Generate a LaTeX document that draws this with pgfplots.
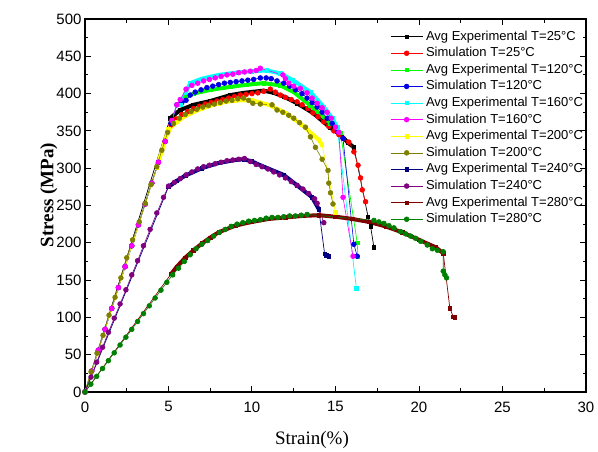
\documentclass[border=0pt]{standalone}
\usepackage{pgfplots}
\pgfplotsset{compat=1.18}
\usepackage{fontspec}
\setmainfont{Liberation Sans}
\newfontfamily\timesfont{Liberation Serif}
\definecolor{cExpA}{RGB}{0,0,0}
\definecolor{cSimA}{RGB}{255,0,0}
\definecolor{cExpB}{RGB}{0,255,0}
\definecolor{cSimB}{RGB}{0,0,230}
\definecolor{cExpC}{RGB}{0,255,255}
\definecolor{cSimC}{RGB}{255,0,255}
\definecolor{cExpD}{RGB}{255,255,0}
\definecolor{cSimD}{RGB}{128,128,0}
\definecolor{cExpE}{RGB}{0,0,128}
\definecolor{cSimE}{RGB}{128,0,128}
\definecolor{cExpF}{RGB}{128,0,0}
\definecolor{cSimF}{RGB}{0,128,0}
\pgfplotsset{
  band/.style={line width=4pt, forget plot, line join=round, line cap=round, mark=none},
  exp/.style={line width=0.7pt, mark=square*, mark size=1.7pt},
  sim/.style={line width=0.6pt, mark=*, mark size=2.4pt},
}
\begin{document}
\begin{tikzpicture}
\path[use as bounding box] (-85pt,-60pt) rectangle (513pt,392pt);
\begin{axis}[
  scale only axis, width=501pt, height=373pt,
  xmin=0, xmax=30, ymin=0, ymax=500,
  xtick={0,5,...,30}, ytick={0,50,...,500},
  minor x tick num=1, minor y tick num=1,
  tick align=inside, major tick length=6pt, minor tick length=3.5pt,
  tick style={line width=1pt, black},
  axis line style={line width=1.2pt},
  /pgf/number format/assume math mode=true,
  ticklabel style={font=\fontsize{15}{17}\selectfont},
  xticklabel style={yshift=-6pt},
  xlabel={Strain(\%)}, ylabel={\bfseries Stress (MPa)},
  xlabel style={font=\timesfont\fontsize{19}{22}\selectfont, at={(axis description cs:0.453,-0.129)}, anchor=center},
  ylabel style={font=\timesfont\fontsize{19}{22}\selectfont, at={(axis description cs:-0.072,0.528)}, anchor=center},
  legend cell align=left,
  legend style={draw=none, fill=none, at={(axis description cs:0.603,0.976)}, anchor=north west,
    font=\fontsize{13}{15}\selectfont,
    nodes={inner sep=0pt, text height=10pt, text depth=3pt},
    row sep=3.6pt,
    /tikz/every odd column/.append style={column sep=3pt}},
  legend image code/.code={\draw[#1, mark repeat=2, mark phase=2] plot coordinates {(0pt,0pt) (16pt,0pt) (32pt,0pt)};},
]
% ---- 25 C experimental
\addplot[band, cExpA] coordinates {(5.1,367)(5.7,378)(6.5,385)(7.5,390)(8.7,398)(9.5,401)(10.7,404)(11.3,401)(11.9,396)(12.7,387)(13.65,374)(14.7,354)(15.3,345)(15.75,334)(16.1,328)};
\addplot[exp, cExpA] coordinates {(0,0)(5.1,367)(5.7,378)(6.5,385)(7.5,390)(8.7,398)(9.5,401)(10.7,404)(11.3,401)(11.9,396)(12.7,387)(13.65,374)(14.7,354)(15.3,345)(15.75,334)(16.1,328)(16.95,235)(17.1,222)(17.3,194)};
\addlegendentry{Avg Experimental T=25°C}
% ---- 25 C simulation
\addplot[sim, cSimA] coordinates {(0,0)(0.4,28)(0.8,56)(1.2,84)(1.6,112)(2.0,140)(2.4,168)(2.8,196)(3.2,224)(3.6,252)(4.0,280)(4.4,308)(4.8,336)(5.15,358)(5.45,366)(5.8,372)(6.15,376)(6.5,380)(6.85,383)(7.2,386)(7.55,388)(7.9,390)(8.25,392)(8.6,394)(8.95,396)(9.3,398)(9.65,399)(10.0,400)(10.35,401)(10.7,403)(11.1,406)(11.4,402)(11.7,398)(12.0,395)(12.35,392)(12.7,389)(13.0,385)(13.35,380)(13.65,374)(13.95,369)(14.3,362)(14.6,356)(14.9,350)(15.2,345)(15.45,340)(15.8,335)(16.1,322)(16.35,304)(16.5,287)(16.6,271)(16.8,255)};
\addlegendentry{Simulation T=25°C}
% ---- 120 C experimental
\addplot[band, cExpB] coordinates {(6.0,395)(6.5,400)(7.5,405)(8.7,409)(9.7,412)(10.7,414)(11.7,411)(12.5,402)(13.5,384)(14.7,360)(15.3,347)};
\addplot[exp, cExpB] coordinates {(0,0)(5.5,385)(6.0,395)(6.5,400)(7.5,405)(8.7,409)(9.7,412)(10.7,414)(11.7,411)(12.5,402)(13.5,384)(14.7,360)(15.3,347)(16.3,200)(16.35,181)};
\addlegendentry{Avg Experimental T=120°C}
% ---- 120 C simulation
\addplot[sim, cSimB] coordinates {(0,0)(0.4,28)(0.8,56)(1.2,84)(1.6,112)(2.0,140)(2.4,168)(2.8,196)(3.2,224)(3.6,252)(4.0,280)(4.4,308)(4.8,336)(5.15,360)(5.5,385)(5.8,388)(6.05,391)(6.3,398)(6.6,402)(6.95,405)(7.3,408)(7.65,410)(8.0,412)(8.35,414)(8.7,415)(9.05,416)(9.4,417)(9.75,418)(10.1,419)(10.5,421)(10.85,421)(11.15,420)(11.5,417)(11.9,414)(12.25,410)(12.6,405)(13.0,400)(13.3,394)(13.6,388)(13.9,382)(14.2,375)(14.5,367)(14.8,360)(15.15,349)(15.45,340)(16.1,198)(16.3,182)};
\addlegendentry{Simulation T=120°C}
% ---- 160 C experimental
\addplot[band, cExpC] coordinates {(5.7,385)(6.3,414)(7,420)(8,425)(9,428)(10,430)(10.9,431)(11.7,427)(12.45,418)(13.5,402)(14.3,382)(14.8,367)(15.1,355)};
\addplot[exp, cExpC] coordinates {(0,0)(5.5,385)(5.7,385)(6.3,414)(7,420)(8,425)(9,428)(10,430)(10.9,431)(11.7,427)(12.45,418)(13.5,402)(14.3,382)(14.8,367)(15.1,355)(16.25,139)};
\addlegendentry{Avg Experimental T=160°C}
% ---- 160 C simulation
\addplot[sim, cSimC] coordinates {(0,0)(0.4,28)(0.8,56)(1.2,84)(1.6,112)(2.0,140)(2.4,168)(2.8,196)(3.2,224)(3.6,252)(4.0,280)(4.4,308)(4.8,336)(5.2,364)(5.5,385)(5.7,392)(6.05,406)(6.4,411)(6.75,414)(7.1,417)(7.45,419)(7.8,421)(8.15,423)(8.5,425)(8.85,426)(9.2,428)(9.55,429)(9.9,430)(10.25,431)(10.5,434)(11.85,425)(12.0,420)(12.2,414)(12.5,410)(12.9,407)(13.3,401)(13.6,394)(13.9,387)(14.2,381)(14.5,375)(14.75,367)(15.0,355)(15.2,348)(15.45,261)(16.05,182)};
\addlegendentry{Simulation T=160°C}
% ---- 200 C experimental
\addplot[band, cExpD] coordinates {(4.3,301)(5.0,352)(5.5,362)(6,370)(7,380)(8,387)(9,391)(10,391)(11,385)(12,374)(13,358)(14,338)(14.2,331)};
\addplot[exp, cExpD] coordinates {(0,0)(4.3,301)(5.0,352)(5.5,362)(6,370)(7,380)(8,387)(9,391)(10,391)(11,385)(12,374)(13,358)(14,338)(14.2,331)(15.0,241)};
\addlegendentry{Avg Experimental T=200°C}
% ---- 200 C simulation
\addplot[sim, cSimD] coordinates {(0,0)(0.36,27)(0.72,52)(1.08,76)(1.44,103)(1.8,127)(2.15,153)(2.5,180)(2.85,204)(3.25,228)(3.6,253)(3.95,278)(4.3,302)(4.6,324)(4.95,348)(5.3,360)(5.65,367)(6.0,372)(6.35,376)(6.7,379)(7.05,382)(7.4,384)(7.75,386)(8.1,388)(8.45,390)(8.8,391)(9.15,393)(9.5,394)(9.8,391)(10.05,387)(10.5,386)(11.2,385)(11.5,378)(11.85,375)(12.2,371)(12.5,367)(12.85,361)(13.2,355)(13.5,342)(13.8,328)(14.2,312)(14.55,297)(14.6,280)(14.7,267)(14.85,252)};
\addlegendentry{Simulation T=200°C}
% ---- 240 C experimental
\addplot[band, cExpE] coordinates {(5.0,275)(5.5,283)(6,290)(7,300)(8,307)(9,311)(9.5,312)(10,309)(10.7,302)(11.9,291)(12.7,277)(13.6,261)(14.0,245)};
\addplot[exp, cExpE] coordinates {(0,0)(5.0,275)(5.5,283)(6,290)(7,300)(8,307)(9,311)(9.5,312)(10,309)(10.7,302)(11.9,291)(12.7,277)(13.6,261)(14.0,245)(14.35,185)(14.45,183)(14.6,182)};
\addlegendentry{Avg Experimental T=240°C}
% ---- 240 C simulation
\addplot[sim, cSimE] coordinates {(0,0)(0.36,20)(0.7,40)(1.05,60)(1.4,80)(1.75,99)(2.1,118)(2.45,137)(2.8,157)(3.15,176)(3.5,196)(3.9,218)(4.3,240)(4.7,261)(5.0,276)(5.35,281)(5.7,286)(6.05,291)(6.4,295)(6.75,299)(7.1,302)(7.45,304)(7.8,306)(8.15,308)(8.5,310)(8.85,311)(9.2,312)(9.55,313)(9.9,309)(10.25,305)(10.6,302)(10.95,299)(11.3,295)(11.65,291)(12.0,287)(12.35,282)(12.7,277)(13.05,272)(13.4,266)(13.75,259)(13.9,253)(14.3,227)};
\addlegendentry{Simulation T=240°C}
% ---- 280 C experimental
\addplot[band, cExpF] coordinates {(5.15,158)(5.5,168)(6,180)(6.5,190)(7,199)(7.5,207)(8,214)(9,223)(10,228)(11,232)(12,234)(13,236)(14,237)(15,235)(16,232)(17,228)(18,222)(19,214)(20,204)(21,194)(21.45,186)};
\addplot[exp, cExpF] coordinates {(0,0)(5.15,158)(5.5,168)(6,180)(6.5,190)(7,199)(7.5,207)(8,214)(9,223)(10,228)(11,232)(12,234)(13,236)(14,237)(15,235)(16,232)(17,228)(18,222)(19,214)(20,204)(21,194)(21.45,186)(21.85,112)(22.05,101)(22.15,100)};
\addlegendentry{Avg Experimental T=280°C}
% ---- 280 C simulation
\addplot[sim, cSimF] coordinates {(0,0)(0.35,10.5)(0.7,21)(1.05,31.5)(1.4,42)(1.75,52.5)(2.1,63)(2.45,73.5)(2.8,84)(3.15,94.5)(3.5,105)(3.85,115.5)(4.2,126)(4.55,136.5)(4.9,147)(5.25,157)(5.6,166)(5.95,175)(6.3,184)(6.65,192)(7.0,198)(7.35,203)(7.7,209)(8.05,214)(8.4,218)(8.75,222)(9.1,225)(9.45,227)(9.8,229)(10.15,230)(10.5,231)(10.85,233)(11.2,234)(11.55,234)(11.9,235)(12.25,236)(12.6,236)(12.95,237)(13.3,238)(17.3,230)(17.6,228)(17.9,226)(18.2,223)(18.5,220)(18.9,215)(19.2,212)(19.5,209)(19.8,206)(20.1,202)(20.5,197)(20.8,192)(21.1,190)(21.45,188)(21.45,162)(21.55,157)(21.65,153)};
\addlegendentry{Simulation T=280°C}
\end{axis}
\end{tikzpicture}
\end{document}
